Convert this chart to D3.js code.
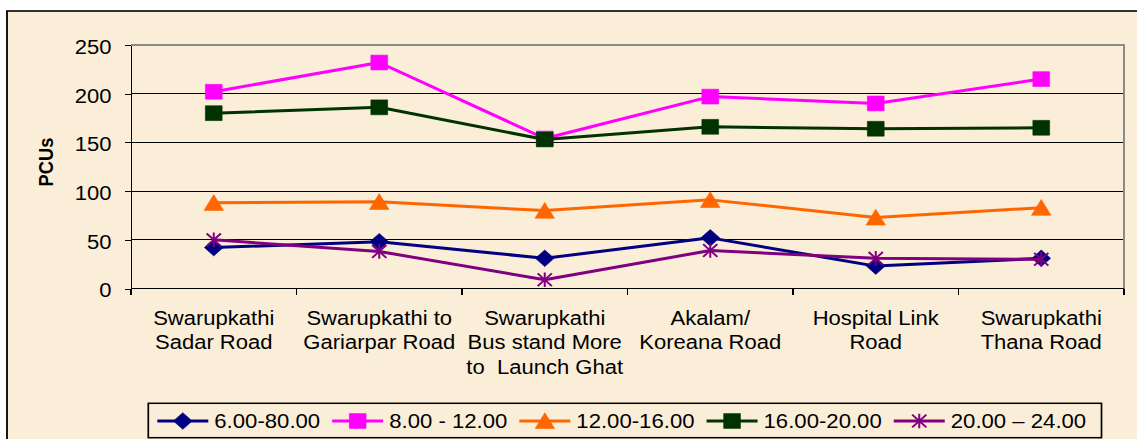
<!DOCTYPE html>
<html>
<head>
<meta charset="utf-8">
<script src="https://cdn.jsdelivr.net/npm/d3@7"></script>
<style>
  html, body { margin: 0; padding: 0; background: #ffffff; }
  svg { display: block; }
  text { font-family: "Liberation Sans", Arial, sans-serif; fill: #000; }
</style>
</head>
<body>
<svg id="chart"></svg>
<script>
// ---------------- data ----------------
const categories = [
  "Swarupkathi\nSadar Road",
  "Swarupkathi to\nGariarpar Road",
  "Swarupkathi\nBus stand More\nto  Launch Ghat",
  "Akalam/\nKoreana Road",
  "Hospital Link\nRoad",
  "Swarupkathi\nThana Road"
];
const seriesNames = ["6.00-80.00", "8.00 - 12.00", "12.00-16.00", "16.00-20.00", "20.00 \u2013 24.00"];
const values0608 = [42, 48, 31, 52, 23, 31];
const values0812 = [202, 232, 154, 197, 190, 215];
const values1216 = [88, 89, 80, 91, 73, 83];
const values1620 = [180, 186, 153, 166, 164, 165];
const values2024 = [50, 38, 9, 39, 31, 30];
const yTicks = [0, 50, 100, 150, 200, 250];
const yTitle = "PCUs";

// ---------------- style / layout ----------------
const W = 1137, H = 439;
const S = 1.13;                  // horizontal stretch of the original picture
const X = px => px / S;          // convert pixel x to viewBox units
const colors = ["#000080", "#FF00FF", "#FF6600", "#003300", "#800080"];
const markers = ["diamond", "square", "triangle", "square", "star"];
const bg = "#FAEED8";
const FS = 19.5;
const LFS = 19.6;

const series = [values0608, values0812, values1216, values1620, values2024]
  .map((vals, i) => ({ name: seriesNames[i], values: vals, color: colors[i], marker: markers[i] }));

const svg = d3.select("#chart")
  .attr("width", W).attr("height", H)
  .attr("viewBox", `0 0 ${W / S} ${H}`)
  .attr("preserveAspectRatio", "none");

// outer chart area
svg.append("rect").attr("x", 0).attr("y", 0).attr("width", W / S).attr("height", H).attr("fill", "#fff");
svg.append("rect")
  .attr("x", X(7)).attr("y", 11)
  .attr("width", W / S + 50).attr("height", H + 50)
  .attr("fill", bg).attr("stroke", "#000").attr("stroke-width", 1.6);

const plot = { left: X(131), right: X(1124), top: 45, bottom: 288.5 };

const x = d3.scaleBand().domain(categories).range([plot.left, plot.right]);
const y = d3.scaleLinear().domain([0, 250]).range([plot.bottom, plot.top]);

// gridlines
svg.append("g").selectAll("line")
  .data(yTicks.filter(v => v > 0 && v < 250))
  .join("line")
  .attr("x1", plot.left).attr("x2", plot.right)
  .attr("y1", d => y(d)).attr("y2", d => y(d))
  .attr("stroke", "#000").attr("stroke-width", 1)
  .attr("shape-rendering", "crispEdges");

// plot area border (top & right gray)
svg.append("path")
  .attr("d", `M${plot.left},${y(250)}H${plot.right}V${plot.bottom}`)
  .attr("fill", "none").attr("stroke", "#8a8a8a").attr("stroke-width", 2)
  .attr("shape-rendering", "crispEdges");

// y axis
const yAxis = d3.axisLeft(y).tickValues(yTicks).tickSize(X(6)).tickPadding(X(13.5)).tickSizeOuter(0);
const gy = svg.append("g").attr("transform", `translate(${plot.left},0)`).call(yAxis);
gy.select(".domain").attr("stroke", "#000").attr("stroke-width", 1.5).attr("shape-rendering", "crispEdges");
gy.selectAll(".tick line").attr("stroke", "#000").attr("stroke-width", 1).attr("shape-rendering", "crispEdges");
gy.selectAll(".tick text")
  .attr("font-size", FS).attr("dy", "0.43em")
  .style("font-family", '"Liberation Sans", Arial, sans-serif').attr("fill", "#000");

// x axis (ticks between categories)
const gx = svg.append("g").attr("shape-rendering", "crispEdges");
gx.append("line")
  .attr("x1", plot.left).attr("x2", plot.right)
  .attr("y1", plot.bottom).attr("y2", plot.bottom)
  .attr("stroke", "#000").attr("stroke-width", 1.8);
const boundaries = categories.map(c => x(c)).concat([x(categories[categories.length - 1]) + x.bandwidth()]);
gx.selectAll("line.tk").data(boundaries).join("line").attr("class", "tk")
  .attr("x1", d => d).attr("x2", d => d)
  .attr("y1", plot.bottom).attr("y2", plot.bottom + 6)
  .attr("stroke", "#000").attr("stroke-width", 1.5);

// category labels
const catLabels = svg.append("g").selectAll("text").data(categories).join("text")
  .attr("x", d => x(d) + x.bandwidth() / 2)
  .attr("y", 325)
  .attr("text-anchor", "middle")
  .attr("font-size", FS)
  .style("white-space", "pre");
catLabels.each(function (d) {
  const t = d3.select(this);
  d.split("\n").forEach((line, i) => {
    t.append("tspan")
      .attr("x", x(d) + x.bandwidth() / 2)
      .attr("y", 325 + i * 24.3)
      .text(line);
  });
});

// y title
svg.append("text")
  .attr("transform", `translate(${X(52.5)},${162}) rotate(-90)`)
  .attr("text-anchor", "middle")
  .attr("font-size", 18.3).attr("font-weight", "bold")
  .text(yTitle);

// marker path generator
function markerPath(type) {
  switch (type) {
    case "diamond": return "M0,-8.3L8.3,0L0,8.3L-8.3,0Z";
    case "square": return "M-7.4,-7.4H7.4V7.4H-7.4Z";
    case "triangle": return "M0,-8.2L8.6,7.6H-8.6Z";
    case "star": return "M0,-7.3V7.3M-6.3,-6.3L6.3,6.3M6.3,-6.3L-6.3,6.3";
  }
}
function drawMarker(g, type, color) {
  const p = g.append("path").attr("d", markerPath(type));
  if (type === "star") p.attr("fill", "none").attr("stroke", color).attr("stroke-width", 1.8);
  else p.attr("fill", color).attr("stroke", color).attr("stroke-width", 0.6);
}

// series lines and markers
const line = d3.line().x((d, i) => x(categories[i]) + x.bandwidth() / 2).y(d => y(d));
series.forEach(s => {
  const g = svg.append("g");
  g.append("path").attr("d", line(s.values))
    .attr("fill", "none").attr("stroke", s.color).attr("stroke-width", 3)
    .attr("stroke-linejoin", "round");
  s.values.forEach((v, i) => {
    const mg = g.append("g").attr("transform", `translate(${x(categories[i]) + x.bandwidth() / 2},${y(v)})`);
    drawMarker(mg, s.marker, s.color);
  });
});

// legend
const legend = svg.append("g");
legend.append("rect")
  .attr("x", X(148.3)).attr("y", 403.3)
  .attr("width", X(1101.5) - X(148.3)).attr("height", 34.4)
  .attr("fill", "none").attr("stroke", "#000").attr("stroke-width", 1.5);
let cur = X(157.3);
const sampleW = X(51), gapText = X(6), gapItem = X(12);
const legY = 421;
series.forEach(s => {
  const g = legend.append("g");
  g.append("line").attr("x1", cur).attr("x2", cur + sampleW)
    .attr("y1", legY).attr("y2", legY)
    .attr("stroke", s.color).attr("stroke-width", 3);
  const mg = g.append("g").attr("transform", `translate(${cur + sampleW / 2},${legY})`);
  drawMarker(mg, s.marker, s.color);
  const t = g.append("text").attr("x", cur + sampleW + gapText).attr("y", 428)
    .attr("font-size", LFS).text(s.name);
  cur = cur + sampleW + gapText + t.node().getComputedTextLength() + gapItem;
});
</script>
</body>
</html>
